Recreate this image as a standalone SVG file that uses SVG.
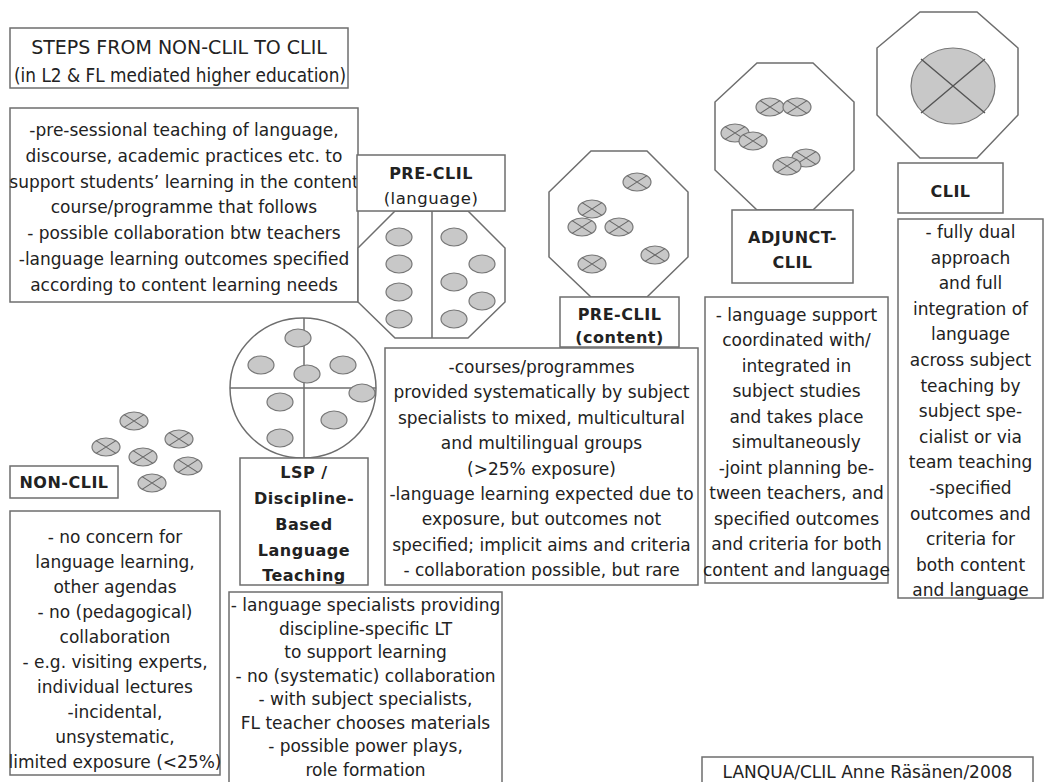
<svg xmlns="http://www.w3.org/2000/svg" width="1045" height="782" viewBox="0 0 1045 782">
<style>
.box{fill:#fff;stroke:#6e6e6e;stroke-width:1.5}
.shape{fill:#fff;stroke:#6e6e6e;stroke-width:1.5}
.div{stroke:#6e6e6e;stroke-width:1.5;fill:none}
.ov{fill:#c8c8c8;stroke:#777;stroke-width:1.2}
.t{font-family:"DejaVu Sans",Verdana,sans-serif;font-size:17px;fill:#222;text-anchor:middle}
.lb{font-family:"DejaVu Sans",Verdana,sans-serif;font-size:16px;font-weight:bold;fill:#222;text-anchor:middle;letter-spacing:0.5px}
.ti{font-family:"DejaVu Sans",Verdana,sans-serif;font-size:19px;fill:#222;text-anchor:middle}
</style>
<defs>
<g id="xo"><ellipse class="ov" cx="0" cy="0" rx="14" ry="9"/><path d="M-9.9,-6.4L9.9,6.4M9.9,-6.4L-9.9,6.4" stroke="#666" stroke-width="1.1"/></g>
<ellipse id="po" class="ov" cx="0" cy="0" rx="13" ry="9"/>
</defs>
<rect width="1045" height="782" fill="#fff"/>

<g id="title">
<rect class="box" x="10" y="28" width="338" height="60"/>
<text class="ti" x="179" y="54">STEPS FROM NON-CLIL TO CLIL</text>
<text class="ti" x="180" y="82" textLength="332" lengthAdjust="spacingAndGlyphs">(in L2 &amp; FL mediated higher education)</text>
</g>

<g id="preclil-language-desc">
<rect class="box" x="10" y="108" width="348" height="194"/>
<text class="t" x="184" y="136">-pre-sessional teaching of language,</text>
<text class="t" x="184" y="162">discourse, academic practices etc. to</text>
<text class="t" x="184" y="188">support students’ learning in the content</text>
<text class="t" x="184" y="213">course/programme that follows</text>
<text class="t" x="184" y="239">- possible collaboration btw teachers</text>
<text class="t" x="184" y="265">-language learning outcomes specified</text>
<text class="t" x="184" y="291">according to content learning needs</text>
</g>

<g id="preclil-language">
<polygon class="shape" points="395,211 468,211 505,248 505,302 468,338 395,338 358,302 358,248"/>
<line class="div" x1="432" y1="211" x2="432" y2="338"/>
<use href="#po" x="399" y="237"/><use href="#po" x="399" y="264"/><use href="#po" x="399" y="292"/><use href="#po" x="399" y="319"/>
<use href="#po" x="454" y="237"/><use href="#po" x="482" y="264"/><use href="#po" x="454" y="282"/><use href="#po" x="482" y="301"/><use href="#po" x="454" y="319"/>
<rect class="box" x="357" y="155" width="148" height="56"/>
<text class="lb" x="431" y="179">PRE-CLIL</text>
<text class="lb" x="431" y="204" style="font-weight:normal;font-size:16.5px">(language)</text>
</g>

<g id="preclil-content">
<polygon class="shape" points="591,151 647,151 688,192 688,257 647,297 591,297 549,257 549,192"/>
<use href="#xo" x="637" y="182"/><use href="#xo" x="592" y="209"/><use href="#xo" x="582" y="227"/><use href="#xo" x="619" y="227"/><use href="#xo" x="592" y="264"/><use href="#xo" x="655" y="255"/>
<rect class="box" x="560" y="297" width="119" height="50"/>
<text class="lb" x="619.5" y="320">PRE-CLIL</text>
<text class="lb" x="619.5" y="343">(content)</text>
</g>

<g id="preclil-content-desc">
<rect class="box" x="385" y="348" width="313" height="237"/>
<text class="t" x="541.5" y="373">-courses/programmes</text>
<text class="t" x="541.5" y="398">provided systematically by subject</text>
<text class="t" x="541.5" y="424">specialists to mixed, multicultural</text>
<text class="t" x="541.5" y="449">and multilingual groups</text>
<text class="t" x="541.5" y="475">(&gt;25% exposure)</text>
<text class="t" x="541.5" y="500">-language learning expected due to</text>
<text class="t" x="541.5" y="525">exposure,  but outcomes not</text>
<text class="t" x="541.5" y="551">specified; implicit aims and criteria</text>
<text class="t" x="541.5" y="576">- collaboration possible, but rare</text>
</g>

<g id="adjunct-clil">
<polygon class="shape" points="757,63 813,63 854,102 854,170 813,210 757,210 715,170 715,102"/>
<use href="#xo" x="770" y="107"/><use href="#xo" x="797" y="107"/><use href="#xo" x="735" y="133"/><use href="#xo" x="753" y="141"/><use href="#xo" x="806" y="158"/><use href="#xo" x="787" y="166"/>
<rect class="box" x="732" y="210" width="121" height="73"/>
<text class="lb" x="792.5" y="243">ADJUNCT-</text>
<text class="lb" x="792.5" y="268">CLIL</text>
</g>

<g id="adjunct-desc">
<rect class="box" x="705" y="297" width="183" height="286"/>
<text class="t" x="796.5" y="321">- language support</text>
<text class="t" x="796.5" y="346">coordinated with/</text>
<text class="t" x="796.5" y="372">integrated in</text>
<text class="t" x="796.5" y="397">subject studies</text>
<text class="t" x="796.5" y="423">and takes place</text>
<text class="t" x="796.5" y="448">simultaneously</text>
<text class="t" x="796.5" y="474">-joint planning be-</text>
<text class="t" x="796.5" y="499">tween teachers, and</text>
<text class="t" x="796.5" y="525">specified outcomes</text>
<text class="t" x="796.5" y="550">and criteria  for both</text>
<text class="t" x="796.5" y="576">content and language</text>
</g>

<g id="clil">
<polygon class="shape" points="920,12 977,12 1018,48 1018,115 977,158 920,158 877,115 877,48"/>
<ellipse class="ov" cx="953" cy="86" rx="42" ry="38"/>
<path d="M921,59L985,113M985,59L921,113" stroke="#555" stroke-width="1.4"/>
<rect class="box" x="898" y="163" width="105" height="50"/>
<text class="lb" x="950.5" y="197">CLIL</text>
</g>

<g id="clil-desc">
<rect class="box" x="898" y="219" width="145" height="379"/>
<text class="t" x="970.5" y="238">- fully dual</text>
<text class="t" x="970.5" y="264">approach</text>
<text class="t" x="970.5" y="289">and full</text>
<text class="t" x="970.5" y="315">integration of</text>
<text class="t" x="970.5" y="340">language</text>
<text class="t" x="970.5" y="366">across subject</text>
<text class="t" x="970.5" y="392">teaching by</text>
<text class="t" x="970.5" y="417">subject spe-</text>
<text class="t" x="970.5" y="443">cialist or via</text>
<text class="t" x="970.5" y="468">team teaching</text>
<text class="t" x="970.5" y="494">-specified</text>
<text class="t" x="970.5" y="520">outcomes  and</text>
<text class="t" x="970.5" y="545">criteria for</text>
<text class="t" x="970.5" y="571">both content</text>
<text class="t" x="970.5" y="596">and language</text>
</g>

<g id="non-clil">
<use href="#xo" x="134" y="421"/><use href="#xo" x="179" y="439"/><use href="#xo" x="106" y="447"/><use href="#xo" x="143" y="457"/><use href="#xo" x="188" y="466"/><use href="#xo" x="152" y="483"/>
<rect class="box" x="10" y="466" width="108" height="32"/>
<text class="lb" x="64" y="488">NON-CLIL</text>
</g>

<g id="non-clil-desc">
<rect class="box" x="10" y="511" width="210" height="264"/>
<text class="t" x="115" y="543">- no concern for</text>
<text class="t" x="115" y="568">language learning,</text>
<text class="t" x="115" y="593">other agendas</text>
<text class="t" x="115" y="618">- no (pedagogical)</text>
<text class="t" x="115" y="643">collaboration</text>
<text class="t" x="115" y="668">- e.g. visiting experts,</text>
<text class="t" x="115" y="693">individual lectures</text>
<text class="t" x="115" y="718">-incidental,</text>
<text class="t" x="115" y="743">unsystematic,</text>
<text class="t" x="115" y="768">limited exposure (&lt;25%)</text>
</g>

<g id="lsp">
<ellipse class="shape" cx="303" cy="388" rx="73" ry="70"/>
<line class="div" x1="230" y1="388" x2="376" y2="388"/>
<line class="div" x1="304" y1="318" x2="304" y2="458"/>
<use href="#po" x="298" y="338"/><use href="#po" x="261" y="365"/><use href="#po" x="307" y="374"/><use href="#po" x="343" y="365"/><use href="#po" x="362" y="393"/><use href="#po" x="280" y="402"/><use href="#po" x="334" y="420"/><use href="#po" x="280" y="438"/>
<rect class="box" x="240" y="458" width="128" height="127"/>
<text class="lb" x="304" y="478">LSP /</text>
<text class="lb" x="304" y="504">Discipline-</text>
<text class="lb" x="304" y="530">Based</text>
<text class="lb" x="304" y="556">Language</text>
<text class="lb" x="304" y="581">Teaching</text>
</g>

<g id="lsp-desc">
<rect class="box" x="229" y="592" width="273" height="195"/>
<text class="t" x="365.5" y="611">- language specialists providing</text>
<text class="t" x="365.5" y="635">discipline-specific LT</text>
<text class="t" x="365.5" y="658">to support learning</text>
<text class="t" x="365.5" y="682">- no (systematic) collaboration</text>
<text class="t" x="365.5" y="705">- with subject specialists,</text>
<text class="t" x="365.5" y="729">FL teacher chooses materials</text>
<text class="t" x="365.5" y="752">- possible power plays,</text>
<text class="t" x="365.5" y="776">role formation</text>
</g>

<g id="footer">
<rect class="box" x="702" y="757" width="331" height="30"/>
<text class="t" x="867.5" y="778">LANQUA/CLIL Anne Räsänen/2008</text>
</g>

<g id="connectors"></g>
</svg>
